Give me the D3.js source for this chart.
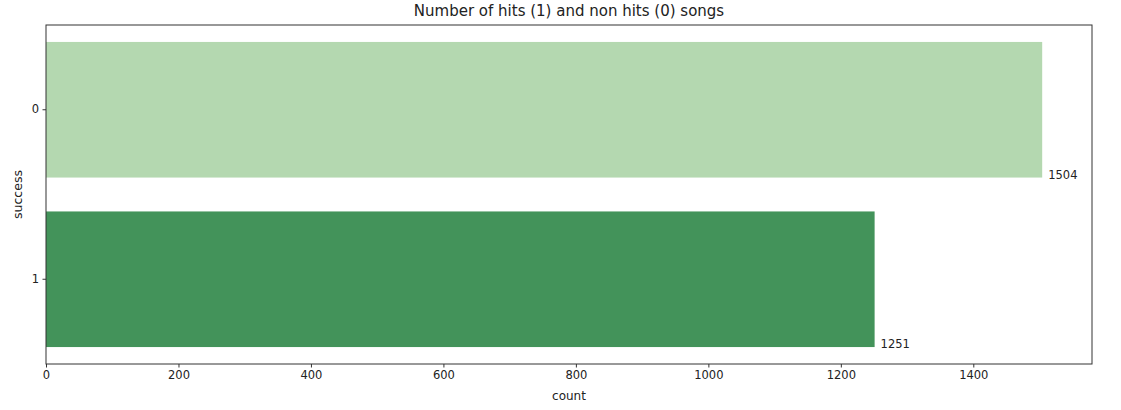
<!DOCTYPE html>
<html lang="en">
<head>
<meta charset="UTF-8">
<title>Hits vs non hits</title>
<style>
    body { margin: 0; background: #fff; }
    svg { display: block; font-family: "DejaVu Sans", sans-serif; }
</style>
</head>
<body>
<svg id="chart" width="1121" height="410"></svg>
<script src="https://cdnjs.cloudflare.com/ajax/libs/d3/7.8.5/d3.min.js"></script>
<script>
    const categories = ["0", "1"];
    const counts = [1504, 1251];
    const barColors = ["#b4d8b0", "#43935a"];
    const xTicks = [0, 200, 400, 600, 800, 1000, 1200, 1400];

    const svg = d3.select("#chart");
    const m = { left: 46, top: 25, right: 1092, bottom: 364 };

    const x = d3.scaleLinear().domain([0, d3.max(counts) * 1.05]).range([m.left, m.right]);
    const y = d3.scaleBand().domain(categories).range([m.top, m.bottom])
        .paddingInner(0.2).paddingOuter(0.1);

    // bars
    svg.selectAll("rect.bar").data(categories).join("rect")
        .attr("class", "bar")
        .attr("x", x(0))
        .attr("y", d => y(d))
        .attr("width", (d, i) => x(counts[i]) - x(0))
        .attr("height", y.bandwidth())
        .attr("fill", (d, i) => barColors[i]);

    // value labels at bottom-right of each bar
    svg.selectAll("text.val").data(categories).join("text")
        .attr("class", "val")
        .attr("x", (d, i) => x(counts[i]) + 6)
        .attr("y", d => y(d) + y.bandwidth() + 1)
        .attr("font-size", 11.5)
        .attr("fill", "#222")
        .text((d, i) => counts[i]);

    // axes
    const xAxis = d3.axisBottom(x).tickValues(xTicks).tickFormat(d3.format("d"))
        .tickSize(3.5).tickPadding(3.5);
    const gx = svg.append("g").attr("transform", `translate(0,${m.bottom})`).call(xAxis);
    const yAxis = d3.axisLeft(y).tickSize(3.5).tickPadding(3.5);
    const gy = svg.append("g").attr("transform", `translate(${m.left},0)`).call(yAxis);
    [gx, gy].forEach(g => {
        g.select(".domain").remove();
        g.selectAll(".tick line").attr("stroke", "#333");
        g.selectAll(".tick text").attr("font-size", 11.5).attr("fill", "#222")
            .attr("font-family", "DejaVu Sans, sans-serif");
    });

    // frame
    svg.append("rect")
        .attr("x", m.left).attr("y", m.top)
        .attr("width", m.right - m.left).attr("height", m.bottom - m.top)
        .attr("fill", "none").attr("stroke", "#333").attr("stroke-width", 1);

    // titles
    svg.append("text").attr("x", (m.left + m.right) / 2).attr("y", 16)
        .attr("text-anchor", "middle").attr("font-size", 15).attr("fill", "#222")
        .text("Number of hits (1) and non hits (0) songs");
    svg.append("text").attr("x", (m.left + m.right) / 2).attr("y", 400)
        .attr("text-anchor", "middle").attr("font-size", 12).attr("fill", "#222")
        .text("count");
    svg.append("text")
        .attr("transform", `translate(22,${(m.top + m.bottom) / 2}) rotate(-90)`)
        .attr("text-anchor", "middle").attr("font-size", 12.5).attr("fill", "#222")
        .text("success");
</script>
</body>
</html>
